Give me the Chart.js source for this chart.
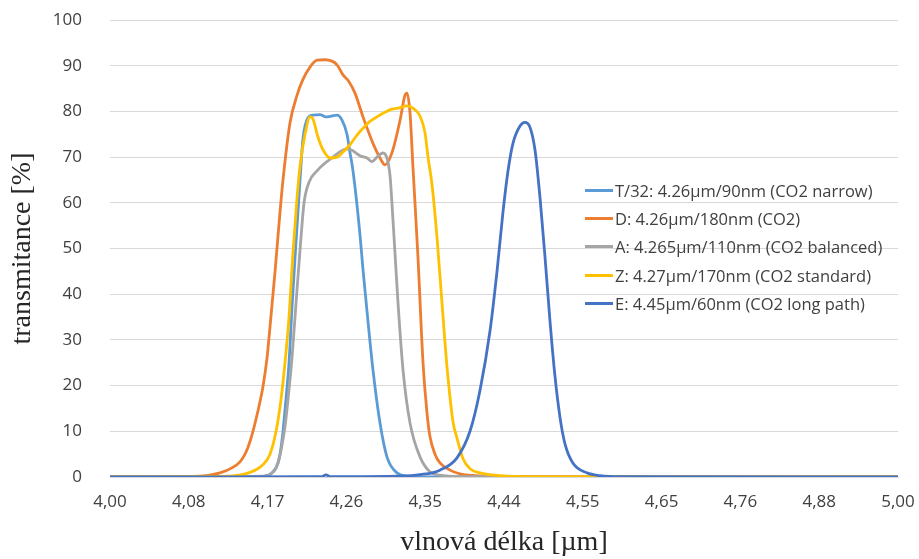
<!DOCTYPE html>
<html lang="cs">
<head>
<meta charset="UTF-8">
<title>Transmitance CO2 filtrů</title>
<script src="https://cdn.jsdelivr.net/npm/chart.js"></script>
<style>
  body { margin: 0; background: #fff; }
  #wrap { position: relative; width: 919px; height: 559px; }
  #legend { position: absolute; left: 585px; top: 176px; font-family: "Open Sans", sans-serif; font-size: 16.5px; color: #404040; }
  #legend .row { height: 28.3px; display: flex; align-items: center; white-space: nowrap; }
  #legend .swatch { display: inline-block; width: 28px; height: 3px; margin-right: 2px; }
</style>
</head>
<body>

<div id="wrap">
  <canvas id="chart" width="919" height="559"></canvas>
  <div id="legend"></div>
</div>

<script>
// wavelength [µm] / transmittance [%] pairs
const tNarrowWl = [4.000, 4.1583, 4.1693, 4.1760, 4.1804, 4.1837, 4.1870, 4.1904, 4.1937, 4.1971, 4.2004, 4.2027, 4.2060, 4.2116, 4.2173, 4.2252, 4.2320, 4.2388, 4.2446, 4.2503, 4.2560, 4.2594, 4.2629, 4.2710, 4.2745, 4.2803, 4.2861, 4.2943, 4.3024, 4.3142, 4.3261, 4.3536, 5.000];
const tNarrowT  = [0, 0.1, 0.6, 2, 5, 10, 17, 25, 37, 48, 58, 65, 74, 78.6, 79.2, 79.3, 78.8, 79, 79.2, 78.1, 75, 71, 67, 53, 45.3, 34, 23.4, 11.8, 4.4, 0.9, 0.2, 0, 0];

const dWl = [4.000, 4.0935, 4.1149, 4.1278, 4.1365, 4.1419, 4.1452, 4.1506, 4.1561, 4.1616, 4.1660, 4.1693, 4.1749, 4.1804, 4.1837, 4.1915, 4.1993, 4.2060, 4.2139, 4.2218, 4.2309, 4.2388, 4.2446, 4.2514, 4.2572, 4.2652, 4.2745, 4.2861, 4.2943, 4.3001, 4.3084, 4.3178, 4.3238, 4.3261, 4.3297, 4.3332, 4.3392, 4.3452, 4.3500, 4.3536, 4.3596, 4.3656, 4.3778, 4.3899, 4.4084, 4.4394, 5.000];
const dT  = [0, 0.2, 0.9, 2.0, 3.3, 5, 6.5, 10, 14.5, 19.8, 26, 32.8, 45, 58, 65, 77.5, 83.5, 87, 89.7, 91.2, 91.3, 91, 90.2, 88, 86.8, 84, 78.8, 73, 69.8, 68.3, 71, 78, 83.6, 84, 79.6, 67.8, 48, 25, 14, 8.8, 5, 3.1, 1.5, 0.7, 0.3, 0.1, 0];

const aWl = [4.000, 4.1638, 4.1715, 4.1782, 4.1826, 4.1859, 4.1893, 4.1937, 4.1982, 4.2038, 4.2072, 4.2128, 4.2218, 4.2286, 4.2400, 4.2480, 4.2560, 4.2617, 4.2710, 4.2792, 4.2849, 4.2907, 4.2978, 4.3024, 4.3060, 4.3096, 4.3119, 4.3155, 4.3214, 4.3297, 4.3416, 4.3536, 4.3656, 4.3899, 5.000];
const aT  = [0, 0.2, 0.9, 3, 7, 11, 17, 26, 38, 52.5, 60, 64.5, 67, 68.3, 70, 71.2, 71.8, 71.5, 70.3, 69.8, 69, 70, 70.9, 69.8, 66, 56, 49, 38, 23.4, 11.8, 4.4, 1.1, 0.4, 0.1, 0];

const zWl = [4.000, 4.1257, 4.1474, 4.1605, 4.1693, 4.1760, 4.1815, 4.1859, 4.1904, 4.1948, 4.1993, 4.2027, 4.2083, 4.2139, 4.2173, 4.2229, 4.2286, 4.2366, 4.2446, 4.2514, 4.2594, 4.2675, 4.2745, 4.2826, 4.2907, 4.2978, 4.3084, 4.3155, 4.3261, 4.3332, 4.3416, 4.3476, 4.3512, 4.3560, 4.3620, 4.3681, 4.3742, 4.3815, 4.3863, 4.3937, 4.4022, 4.4146, 4.4394, 4.4773, 5.000];
const zT  = [0, 0.2, 1, 2.5, 5, 10, 17, 25, 35, 49, 61, 68, 75, 78.8, 78.3, 74.4, 71.6, 69.8, 70, 71.1, 72.7, 74.8, 76.3, 77.8, 78.8, 79.6, 80.5, 80.7, 81.2, 80.7, 79, 75.3, 70, 64, 52.5, 38, 24, 12, 8.5, 4, 1.8, 0.9, 0.3, 0.05, 0];

const eWl = [4.000, 4.2139, 4.2275, 4.2320, 4.2366, 4.3178, 4.3416, 4.3656, 4.3863, 4.4022, 4.4146, 4.4270, 4.4357, 4.4432, 4.4495, 4.4557, 4.4646, 4.4709, 4.4773, 4.4837, 4.4901, 4.4965, 4.5029, 4.5093, 4.5158, 4.5223, 4.5327, 4.5510, 4.5681, 4.5948, 5.000];
const eT  = [0, 0.05, 0.1, 0.45, 0.1, 0.2, 0.5, 1.5, 4.2, 10, 19, 32, 45, 58, 67, 73, 76.8, 77.6, 76.5, 71.5, 61, 48, 34, 22, 13, 7.2, 3, 0.9, 0.3, 0.05, 0];

const seriesNames = [
  'T/32: 4.26µm/90nm (CO2 narrow)',
  'D: 4.26µm/180nm (CO2)',
  'A: 4.265µm/110nm (CO2 balanced)',
  'Z: 4.27µm/170nm (CO2 standard)',
  'E: 4.45µm/60nm (CO2 long path)'
];
const seriesColors = ['#5B9BD5', '#ED7D31', '#A5A5A5', '#FFC000', '#4472C4'];
const seriesWl = [tNarrowWl, dWl, aWl, zWl, eWl];
const seriesT = [tNarrowT, dT, aT, zT, eT];

// the axis is evenly spaced in wavenumber (2500..2000 cm-1), labels in µm
const toWavenumber = wl => 10000 / wl;

const datasets = seriesNames.map((name, i) => ({
  label: name,
  data: seriesWl[i].map((wl, j) => ({ x: toWavenumber(wl), y: seriesT[i][j] })),
  borderColor: seriesColors[i],
  borderWidth: 2.8,
  pointRadius: 0,
  fill: false,
  cubicInterpolationMode: 'monotone',
  order: seriesNames.length - i   // later series drawn on top, like Excel
}));

const tickFont = { family: '"Open Sans", sans-serif', size: 17 };
const titleFont = { family: '"Liberation Serif", "Times New Roman", serif', size: 28 };

new Chart(document.getElementById('chart'), {
  type: 'line',
  data: { datasets: datasets },
  options: {
    responsive: false,
    animation: false,
    layout: { padding: { top: 20, right: 21, left: 0, bottom: 0 } },
    plugins: { legend: { display: false }, tooltip: { enabled: false } },
    scales: {
      x: {
        type: 'linear',
        reverse: true,
        min: 2000,
        max: 2500,
        grid: { display: false },
        border: { display: true, color: '#d9d9d9' },
        ticks: {
          stepSize: 50,
          autoSkip: false,
          maxRotation: 0,
          padding: 7,
          color: '#404040',
          font: tickFont,
          callback: v => (10000 / v).toFixed(2).replace('.', ',')
        },
        title: { display: true, text: 'vlnová délka [µm]', color: '#262626', font: titleFont, padding: { top: 0, bottom: 0 } },
        afterFit: s => { s.height = 82; s.paddingLeft = 0; s.paddingRight = 0; }
      },
      y: {
        min: 0,
        max: 100,
        grid: { color: '#d9d9d9', drawTicks: false },
        border: { display: false },
        ticks: { stepSize: 10, padding: 28, color: '#404040', font: tickFont },
        title: { display: true, text: 'transmitance [%]', color: '#262626', font: titleFont, padding: { top: 6, bottom: 0 } },
        afterFit: s => { s.width = 110; s.paddingTop = 0; s.paddingBottom = 0; }
      }
    }
  }
});

const legendBox = document.getElementById('legend');
seriesNames.forEach((name, i) => {
  const row = document.createElement('div');
  row.className = 'row';
  const sw = document.createElement('span');
  sw.className = 'swatch';
  sw.style.background = seriesColors[i];
  row.appendChild(sw);
  row.appendChild(document.createTextNode(name));
  legendBox.appendChild(row);
});
</script>

</body>
</html>
